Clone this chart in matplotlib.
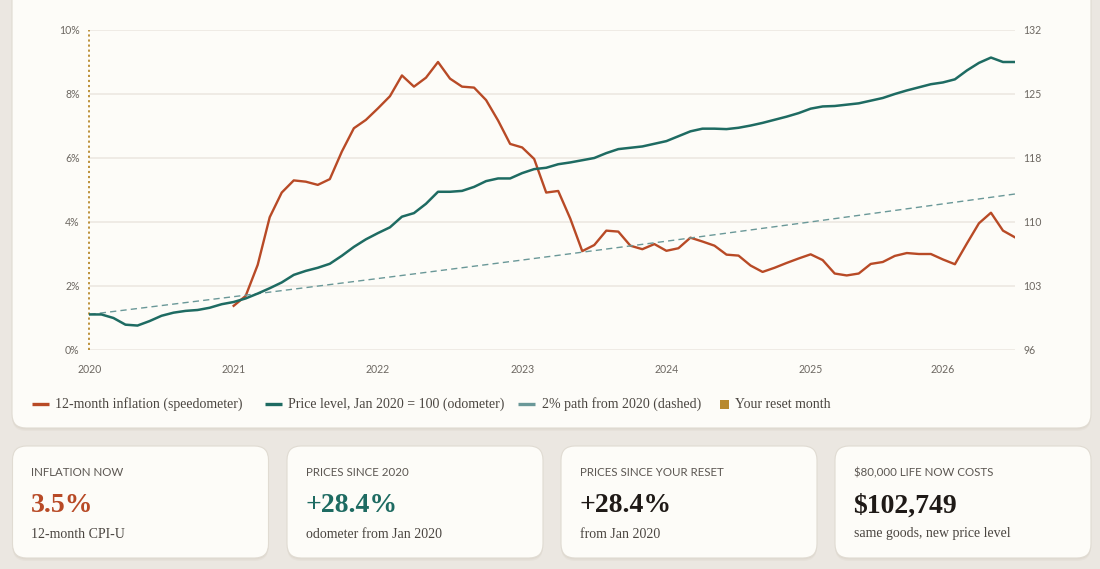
import matplotlib
matplotlib.use("Agg")
import matplotlib.pyplot as plt
from matplotlib.patches import FancyBboxPatch, Rectangle
from matplotlib.lines import Line2D

# ---------------- data ----------------
year_labels = ["2020", "2021", "2022", "2023", "2024", "2025", "2026"]
year_tick_index = [0, 12, 24, 36, 48, 60, 71]

# price level, Jan 2020 = 100, monthly from Jan 2020 (index 0) to Jun 2026 (index 77)
price_level = [
    100.0, 100.0, 99.6, 98.85, 98.75, 99.25, 99.85, 100.2, 100.4, 100.5, 100.75, 101.15,
    101.4, 101.8, 102.35, 102.95, 103.6, 104.45, 104.9, 105.25, 105.7, 106.6, 107.6, 108.45,
    109.15, 109.8, 111.0, 111.4, 112.45, 113.8, 113.8, 113.9, 114.35, 115.0, 115.3, 115.3,
    115.9, 116.35, 116.5, 116.9, 117.1, 117.35, 117.6, 118.15, 118.6, 118.75, 118.9, 119.2,
    119.5, 120.05, 120.6, 120.9, 120.9, 120.85, 121.0, 121.25, 121.55, 121.9, 122.25, 122.65,
    123.15, 123.4, 123.45, 123.6, 123.75, 124.05, 124.35, 124.8, 125.2, 125.55, 125.9, 126.1,
    126.45, 127.45, 128.3, 128.9, 128.4, 128.4,
]

# 12-month inflation (%), monthly from Jan 2021 (index 12) to Jun 2026
inflation_start = 12
inflation = [
    1.38, 1.69, 2.66, 4.15, 4.92, 5.30, 5.26, 5.16, 5.34, 6.20, 6.93, 7.19,
    7.55, 7.93, 8.58, 8.23, 8.51, 9.00, 8.48, 8.23, 8.20, 7.81, 7.17, 6.44,
    6.33, 5.97, 4.92, 4.97, 4.11, 3.09, 3.28, 3.73, 3.70, 3.26, 3.15, 3.31,
    3.10, 3.18, 3.51, 3.39, 3.26, 2.98, 2.95, 2.64, 2.44, 2.57, 2.72, 2.86,
    2.99, 2.81, 2.39, 2.33, 2.39, 2.69, 2.75, 2.94, 3.03, 3.00, 3.00, 2.83,
    2.68, 3.33, 3.96, 4.29, 3.73, 3.52,
]

# 2% path from Jan 2020 (values read at yearly points)
path_index = [0, 12, 24, 36, 48, 60, 72, 77]
path_level = [100.0, 102.0, 104.04, 106.12, 108.24, 110.41, 112.62, 113.55]

left_ticks = [0, 2, 4, 6, 8, 10]
left_labels = ["0%", "2%", "4%", "6%", "8%", "10%"]
right_ticks = [96, 103.2, 110.4, 117.6, 124.8, 132]
right_labels = ["96", "103", "110", "118", "125", "132"]

legend_labels = ["12-month inflation (speedometer)", "Price level, Jan 2020 = 100 (odometer)",
                 "2% path from 2020 (dashed)", "Your reset month"]

card_titles = ["INFLATION NOW", "PRICES SINCE 2020", "PRICES SINCE YOUR RESET", "$80,000 LIFE NOW COSTS"]
card_values = ["3.5%", "+28.4%", "+28.4%", "$102,749"]
card_notes = ["12-month CPI-U", "odometer from Jan 2020", "from Jan 2020", "same goods, new price level"]

# ---------------- style ----------------
PAGE = "#ebe7e1"
CARD = "#fdfcf8"
BORDER = "#e0dbd2"
ORANGE = "#b84a26"
TEAL = "#1e6b62"
LTEAL = "#6a9898"
GOLD = "#b8892c"
GRID = "#eeeae3"
TICK = "#6d6862"
TEXT = "#4a4540"
DARK = "#1f1a17"
SERIF = ["Liberation Serif", "DejaVu Serif"]
SANS = ["Lato", "DejaVu Sans"]
card_value_colors = [ORANGE, TEAL, DARK, DARK]

W, H = 1100, 569
fig = plt.figure(figsize=(W / 100, H / 100), dpi=100)
fig.patch.set_facecolor(PAGE)

bg = fig.add_axes([0, 0, 1, 1])
bg.set_xlim(0, W)
bg.set_ylim(H, 0)
bg.axis("off")


def card(x0, y0, x1, y1, r=14):
    for off, a in [(3, 0.25), (1.5, 0.45)]:
        bg.add_patch(FancyBboxPatch((x0, y0 + off), x1 - x0, y1 - y0,
                                    boxstyle=f"round,pad=0,rounding_size={r}",
                                    fc="#d8d1c6", ec="none", alpha=a, zorder=1))
    bg.add_patch(FancyBboxPatch((x0, y0), x1 - x0, y1 - y0,
                                boxstyle=f"round,pad=0,rounding_size={r}",
                                fc=CARD, ec=BORDER, lw=0.8, zorder=2))


# main chart card
card(12, -30, 1091, 428)

# bottom cards
card_left = [12.5, 287, 561, 835]
card_w = 256
for i in range(4):
    x0 = card_left[i]
    card(x0, 446, x0 + card_w, 558)
    tx = x0 + 18.5
    bg.text(tx, 476, card_titles[i], family=SANS, fontsize=8.3, color="#5c5752",
            va="baseline", ha="left", zorder=3)
    bg.text(tx, 512.5, card_values[i], family=SERIF, fontsize=20, fontweight="bold",
            color=card_value_colors[i], va="baseline", ha="left", zorder=3)
    bg.text(tx, 537.5, card_notes[i], family=SERIF, fontsize=10, color=TEXT,
            va="baseline", ha="left", zorder=3)

# ---------------- chart ----------------
ax = fig.add_axes([89.4 / W, (H - 350) / H, (1015 - 89.4) / W, 320 / H])
ax.set_facecolor("none")
ax2 = ax.twinx()
ax2.set_facecolor("none")

n = len(price_level)
ax.set_xlim(0, n - 1)
ax.set_ylim(0, 10)
ax2.set_ylim(96, 132)

ax.set_yticks(left_ticks)
ax.set_yticklabels(left_labels)
ax2.set_yticks(right_ticks)
ax2.set_yticklabels(right_labels)
ax.set_xticks(year_tick_index)
ax.set_xticklabels(year_labels)

for a in (ax, ax2):
    for s in a.spines.values():
        s.set_visible(False)
    a.tick_params(length=0, labelcolor=TICK, labelsize=7.6)
    for lab in a.get_xticklabels() + a.get_yticklabels():
        lab.set_family(SANS)
ax.tick_params(axis="y", pad=7)
ax2.tick_params(axis="y", pad=6)
ax.tick_params(axis="x", pad=10)

ax.grid(axis="y", color=GRID, lw=1.3, zorder=0)
ax.grid(axis="x", visible=False)
ax.set_axisbelow(True)

# reset month marker
ax.axvline(0, color=GOLD, lw=1.3, ls=(0, (1.2, 1.6)), zorder=1, clip_on=False)

x_infl = list(range(inflation_start, inflation_start + len(inflation)))
ax.plot(x_infl, inflation, color=ORANGE, lw=1.7, solid_joinstyle="round", zorder=3)

ax2.plot(path_index, path_level, color=LTEAL, lw=1.0, ls=(0, (4.5, 3)), zorder=2)
ax2.plot(range(n), price_level, color=TEAL, lw=1.8, solid_joinstyle="round", zorder=4)

# ---------------- legend ----------------
leg_y = 404
leg_items = [
    (31.5, 55, ORANGE, "line"),
    (265, 288.5, TEAL, "line"),
    (518, 542, LTEAL, "line"),
    (720, 735, GOLD, "square"),
]
for (hx, tx, col, kind), lab in zip(leg_items, legend_labels):
    if kind == "line":
        bg.add_line(Line2D([hx, hx + 17], [leg_y, leg_y], color=col, lw=2.4,
                           solid_capstyle="butt", zorder=3))
    else:
        bg.add_patch(Rectangle((hx, leg_y - 4.5), 9, 9.5, fc=col, ec="none", zorder=3))
    bg.text(tx, leg_y, lab, family=SERIF, fontsize=10, color=TEXT,
            va="center", ha="left", zorder=3)

fig.savefig("out.png", dpi=100, facecolor=PAGE)
